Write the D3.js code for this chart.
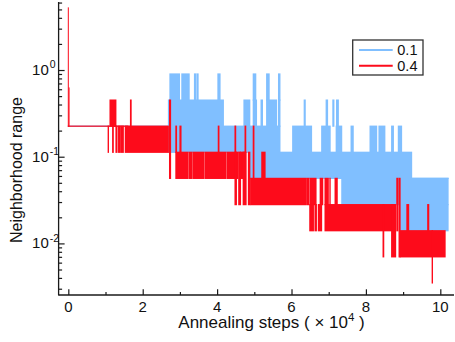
<!DOCTYPE html>
<html>
<head>
<meta charset="utf-8">
<script src="https://cdn.jsdelivr.net/npm/d3@7"></script>
<style>
  body { margin: 0; background: #fff; }
  svg { display: block; font-family: "Liberation Sans", Arial, sans-serif; }
</style>
</head>
<body>
<svg id="chart" width="455" height="342"></svg>
<script>
// series names
const seriesNames = ["0.1", "0.4"];
const seriesColors = ["#80bfff", "#fd0b1b"];

// x tick labels (x 10^4 steps) and y decades
const xMajorTicks = [0, 2, 4, 6, 8, 10];
const xMinorTicks = [1, 3, 5, 7, 9];
const yDecades = [1, 0.1, 0.01];
const yDecadeExp = ["0", "-1", "-2"];

// traces: [xFrom, xTo, highValue, lowValue]
// (the trace flips densely between the two levels inside each range)
const blueRanges = [
  [0, 2.69, 0.225, 0.225],
  [2.73, 2.99, 0.9, 0.45], [3.05, 3.25, 0.9, 0.45], [3.39, 3.43, 0.9, 0.45],
  [3.46, 3.49, 0.9, 0.45], [4.02, 4.08, 0.9, 0.45], [4.97, 5.04, 0.9, 0.45],
  [5.33, 5.40, 0.9, 0.45], [5.65, 5.69, 0.9, 0.45],
  [2.69, 4.17, 0.45, 0.225], [4.72, 4.88, 0.45, 0.225], [4.97, 5.06, 0.45, 0.225],
  [5.18, 5.22, 0.45, 0.225], [5.33, 5.60, 0.45, 0.225], [5.65, 5.69, 0.45, 0.225],
  [6.34, 6.37, 0.45, 0.225], [6.93, 6.97, 0.45, 0.225], [7.11, 7.14, 0.45, 0.225],
  [7.21, 7.26, 0.45, 0.225],
  [2.69, 5.69, 0.225, 0.1125], [6.03, 6.54, 0.225, 0.1125], [6.81, 7.04, 0.225, 0.1125],
  [7.20, 7.35, 0.225, 0.1125], [7.60, 7.66, 0.225, 0.1125], [8.11, 8.29, 0.225, 0.1125],
  [8.35, 8.51, 0.225, 0.1125], [8.69, 8.74, 0.225, 0.1125], [8.87, 8.96, 0.225, 0.1125],
  [4.88, 9.23, 0.1125, 0.05625],
  [4.88, 10.21, 0.05625, 0.05625],
  [7.35, 10.21, 0.05625, 0.028],
  [8.92, 10.21, 0.028, 0.014]
];

const redRanges = [
  [0, 0, 5.2, 0.225], [0.02, 0.02, 0.62, 0.225], [0, 1.6, 0.225, 0.225],
  [1.07, 1.08, 0.225, 0.1125], [1.12, 1.28, 0.45, 0.225], [1.19, 1.21, 0.225, 0.1125],
  [1.28, 1.31, 0.225, 0.1125], [1.35, 1.40, 0.225, 0.1125], [1.43, 1.48, 0.225, 0.1125],
  [1.53, 2.69, 0.225, 0.1125], [1.67, 1.69, 0.45, 0.225],
  [2.72, 2.75, 0.45, 0.05625],
  [2.89, 2.91, 0.225, 0.1125], [3.0, 3.03, 0.225, 0.1125], [4.03, 4.05, 0.225, 0.1125],
  [4.48, 4.50, 0.225, 0.1125], [4.75, 4.77, 0.225, 0.1125], [4.97, 4.99, 0.225, 0.05625],
  [2.89, 3.21, 0.1125, 0.05625], [3.24, 3.33, 0.1125, 0.05625], [3.36, 3.65, 0.1125, 0.05625],
  [3.68, 4.24, 0.1125, 0.05625], [4.27, 4.48, 0.1125, 0.05625], [4.52, 4.56, 0.1125, 0.05625],
  [4.62, 4.75, 0.1125, 0.05625], [5.2, 5.29, 0.1125, 0.05625],
  [4.48, 4.52, 0.1125, 0.028], [4.58, 4.63, 0.1125, 0.028], [4.70, 4.78, 0.1125, 0.028],
  [4.84, 4.88, 0.1125, 0.028],
  [4.90, 6.40, 0.05625, 0.028], [6.43, 6.47, 0.05625, 0.028], [6.50, 6.66, 0.05625, 0.028],
  [6.77, 6.84, 0.05625, 0.028], [6.90, 6.99, 0.05625, 0.028], [7.03, 7.04, 0.05625, 0.028],
  [7.17, 7.23, 0.05625, 0.028],
  [6.49, 6.59, 0.028, 0.014], [6.63, 6.67, 0.028, 0.014], [6.72, 6.81, 0.028, 0.014],
  [6.90, 8.78, 0.028, 0.014],
  [8.46, 8.48, 0.028, 0.007], [8.69, 8.80, 0.028, 0.007],
  [8.83, 8.86, 0.05625, 0.014], [8.89, 8.92, 0.05625, 0.007],
  [8.92, 10.13, 0.014, 0.007],
  [9.10, 9.15, 0.028, 0.014], [9.66, 9.69, 0.028, 0.014],
  [9.78, 9.79, 0.014, 0.0035]
];

const svg = d3.select("#chart");
const axisColor = "#1a1a1a";

// scales
const x = d3.scaleLinear().domain([-0.261, 10.368]).range([58.6, 454]);
const y = d3.scaleLog().domain([0.00254, 6.09]).range([295, 2]);

// draw one trace as its filled ranges
function drawTrace(ranges, color) {
  svg.append("g")
    .selectAll("rect")
    .data(ranges)
    .join("rect")
    .attr("x", d => x(d[0]) - 0.5)
    .attr("width", d => Math.max(1, x(d[1]) - x(d[0]) + 1))
    .attr("y", d => y(d[2]) - 0.6)
    .attr("height", d => Math.max(1.2, y(d[3]) - y(d[2]) + 1.2))
    .attr("fill", color);
}

drawTrace(blueRanges, seriesColors[0]);
drawTrace(redRanges, seriesColors[1]);

// x axis, ticks inside
const xAxisG = svg.append("g").attr("transform", "translate(0,295)");
xAxisG.call(d3.axisBottom(x).tickValues(xMajorTicks).tickSize(-5.7).tickFormat(""));
xAxisG.call(g => g.append("g").call(d3.axisBottom(x).tickValues(xMinorTicks).tickSize(-3).tickFormat("")));
xAxisG.selectAll(".domain").remove();
xAxisG.selectAll("line").attr("stroke", axisColor).attr("stroke-width", 1.2);
xAxisG.append("line")
  .attr("x1", 58.6).attr("x2", 454)
  .attr("stroke", axisColor).attr("stroke-width", 1.3);

svg.append("g")
  .selectAll("text")
  .data(xMajorTicks)
  .join("text")
  .attr("x", d => x(d))
  .attr("y", 312)
  .attr("text-anchor", "middle")
  .attr("font-size", 15)
  .attr("fill", "#111")
  .text(d => d);

// y axis, log ticks inside
const yMinor = [];
[0.001, 0.01, 0.1, 1].forEach(dec => {
  for (let k = 2; k <= 9; k++) {
    const v = dec * k;
    if (v >= 0.00254 && v <= 6.09) yMinor.push(v);
  }
});
const yAxisG = svg.append("g").attr("transform", "translate(58.6,0)");
yAxisG.call(d3.axisLeft(y).tickValues(yDecades).tickSize(-6).tickFormat(""));
yAxisG.call(g => g.append("g").call(d3.axisLeft(y).tickValues(yMinor).tickSize(-3.5).tickFormat("")));
yAxisG.selectAll(".domain").remove();
yAxisG.selectAll("line").attr("stroke", axisColor).attr("stroke-width", 1.2);
yAxisG.append("line")
  .attr("y1", 2).attr("y2", 295.6)
  .attr("stroke", axisColor).attr("stroke-width", 1.3);

const yLab = svg.append("g").selectAll("g")
  .data(yDecades)
  .join("g")
  .attr("transform", d => "translate(0," + y(d) + ")");
yLab.append("text")
  .attr("x", 48.8).attr("y", 5)
  .attr("text-anchor", "end")
  .attr("font-size", 15)
  .attr("fill", "#111")
  .text("10");
yLab.append("text")
  .attr("x", 49.8).attr("y", -1.8)
  .attr("font-size", 10.5)
  .attr("fill", "#111")
  .text((d, i) => yDecadeExp[i]);

// axis titles
const xTitle = svg.append("text")
  .attr("x", 178.3).attr("y", 328.3)
  .attr("font-size", 17)
  .attr("fill", "#111");
xTitle.append("tspan").text("Annealing steps ( \u00d7 10");
xTitle.append("tspan").attr("font-size", 11.5).attr("dy", -7.5).text("4");
xTitle.append("tspan").attr("dy", 7.5).text(" )");

svg.append("text")
  .attr("transform", "translate(21.7,170) rotate(-90)")
  .attr("text-anchor", "middle")
  .attr("font-size", 16)
  .attr("fill", "#111")
  .text("Neighborhood range");

// legend
const legend = svg.append("g");
legend.append("rect")
  .attr("x", 352.7).attr("y", 40)
  .attr("width", 70.3).attr("height", 35)
  .attr("fill", "#fff")
  .attr("stroke", "#333").attr("stroke-width", 1.3);
const legendRows = legend.selectAll("g.row")
  .data(seriesNames)
  .join("g")
  .attr("class", "row")
  .attr("transform", (d, i) => "translate(0," + (50 + i * 15.7) + ")");
legendRows.append("line")
  .attr("x1", 359).attr("x2", 392.7)
  .attr("stroke", (d, i) => seriesColors[i])
  .attr("stroke-width", 2);
legendRows.append("text")
  .attr("x", 397.3).attr("y", 5.3)
  .attr("font-size", 14.5)
  .attr("fill", "#111")
  .text(d => d);
</script>
</body>
</html>
